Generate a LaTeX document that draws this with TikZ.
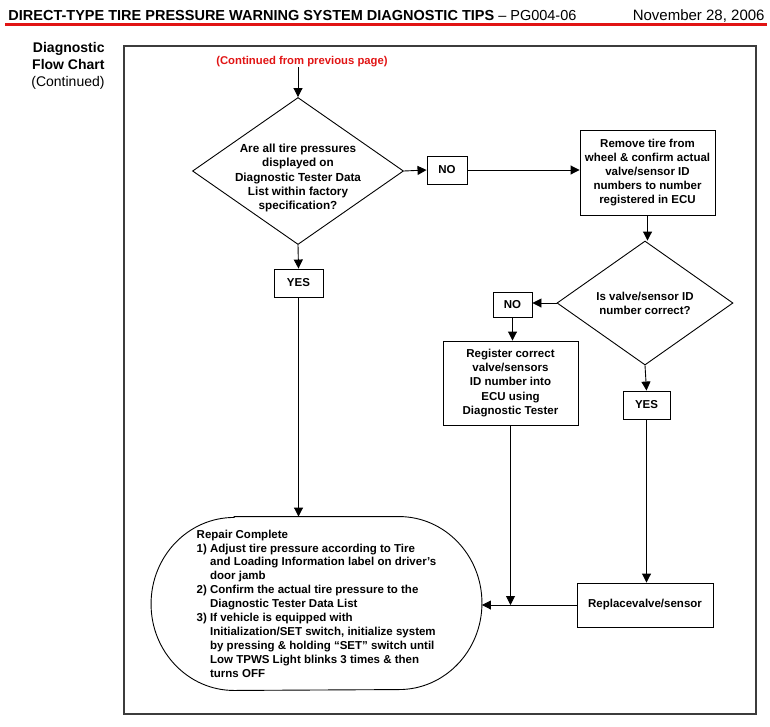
\documentclass[tikz,border=0pt]{standalone}
\usepackage{fontspec}
\setmainfont{Liberation Sans}
\usetikzlibrary{arrows.meta,shapes.geometric}
\definecolor{pagered}{RGB}{225,20,20}
\definecolor{framegray}{RGB}{60,60,60}
\begin{document}
\begin{tikzpicture}[x=1pt,y=-1pt,line width=0.9pt,
    font=\fontsize{11.5}{14.2}\selectfont\bfseries,
    decision/.style={draw,diamond,inner sep=0pt,align=center},
    process/.style={draw,rectangle,inner sep=0pt,align=center},
    answer/.style={draw,rectangle,inner sep=0pt,minimum height=28},
    flow/.style={-{Triangle[length=9pt,width=9pt]}}]
  \useasboundingbox (0,0) rectangle (770,726);

  % page header
  \node[anchor=base west,inner sep=0pt,font=\fontsize{14.5}{17}\selectfont] (title) at (8,20)
    {\bfseries DIRECT-TYPE TIRE PRESSURE WARNING SYSTEM DIAGNOSTIC TIPS\mdseries{} -- PG004-06};
  \node[anchor=base east,inner sep=0pt,font=\fontsize{15}{17}\selectfont\mdseries] (date) at (765,20)
    {November 28, 2006};
  \draw[pagered,line width=3.5pt] (5,24.5) -- (767,24.5);
  \node[anchor=north east,inner sep=0pt,align=right,font=\fontsize{14}{17}\selectfont\bfseries]
    (side) at (105,42) {Diagnostic\\Flow Chart\\\mdseries(Continued)};
  \draw[framegray,line width=1.2pt] (124,46) rectangle (756,714);

  % chart
  \node[text=pagered,font=\fontsize{11.3}{13}\selectfont\bfseries] (cont) at (302,62)
    {(Continued from previous page)};
  \node[decision,minimum width=211,minimum height=147] (q1) at (298,171) {};
  \node[align=center,inner sep=0pt,font=\fontsize{11.7}{14.3}\selectfont\bfseries]
    (q1text) at ([yshift=-7pt]q1.center)
    {Are all tire pressures\\displayed on\\Diagnostic Tester Data\\List within factory\\specification?};
  \node[answer,minimum width=49] (yes1) at (298.5,283) {YES};
  \node[answer,minimum width=40] (no1) at (447,170) {NO};
  \node[process,minimum width=135,minimum height=85] (remove) at (647.5,172.5)
    {Remove tire from\\wheel \& confirm actual\\valve/sensor ID\\numbers to number\\registered in ECU};
  \node[decision,aspect=1.42,minimum width=176,minimum height=124] (q2) at (645,303)
    {Is valve/sensor ID\\number correct?};
  \node[answer,minimum width=39,minimum height=25] (no2) at (512.5,304.5) {NO};
  \node[process,minimum width=135,minimum height=84] (register) at (510.5,383)
    {Register correct\\valve/sensors\\ID number into\\ECU using\\Diagnostic Tester};
  \node[answer,minimum width=47] (yes2) at (646.5,405) {YES};
  \node[process,minimum width=136,minimum height=44] (replace) at (645,605)
    {Replacevalve/sensor};
  \node[inner sep=0pt,minimum width=330,minimum height=173,align=left,
    font=\fontsize{11.5}{13.9}\selectfont\bfseries] (done) at (316.5,603.5)
    {Repair Complete\\
     1) Adjust tire pressure according to Tire\\
     \hphantom{1) }and Loading Information label on driver's\\
     \hphantom{1) }door jamb\\
     2) Confirm the actual tire pressure to the\\
     \hphantom{2) }Diagnostic Tester Data List\\
     3) If vehicle is equipped with\\
     \hphantom{3) }Initialization/SET switch, initialize system\\
     \hphantom{3) }by pressing \& holding ``SET'' switch until\\
     \hphantom{3) }Low TPWS Light blinks 3 times \& then\\
     \hphantom{3) }turns OFF};
  \draw ([xshift=83]done.north west) -- ([xshift=-83]done.north east)
    arc[start angle=-90,end angle=90,x radius=83,y radius=86.5]
    -- ([xshift=83]done.south west)
    arc[start angle=90,end angle=270,x radius=83,y radius=86.5] -- cycle;

  \begin{scope}[flow]
    \draw ([yshift=4]cont.south -| q1.north) -- (q1.north);
    \draw (q1.east) -- (no1.west);
    \draw (no1.east) -- (remove.west |- no1.east);
    \draw (q1.south) -- (yes1.north);
    \draw (yes1.south) -- (yes1.south |- done.north);
    \draw (remove.south) -- (remove.south |- q2.north);
    \draw (q2.west) -- (no2.east |- q2.west);
    \draw (no2.south) -- (no2.south |- register.north);
    \draw (q2.south) -- (yes2.north);
    \draw (yes2.south) -- (yes2.south |- replace.north);
    \draw (register.south) -- (register.south |- replace.west);
    \draw (replace.west) -- (replace.west -| done.east);
  \end{scope}
\end{tikzpicture}
\end{document}
